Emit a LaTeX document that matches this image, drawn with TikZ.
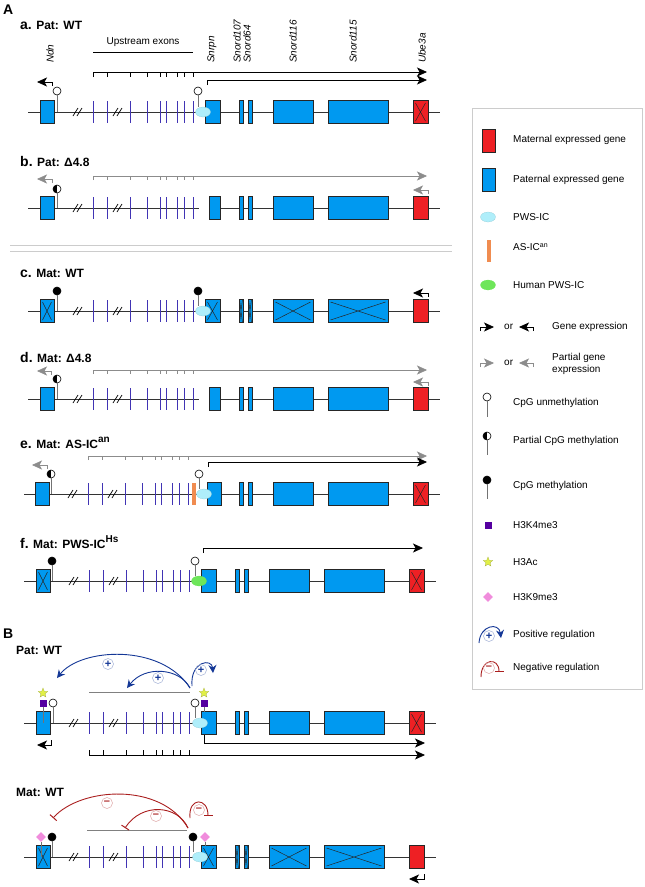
\documentclass[tikz,border=0pt]{standalone}
\usepackage{fontspec}
\setmainfont{Liberation Sans}
\usetikzlibrary{arrows.meta,shapes.geometric}

\definecolor{patblue}{RGB}{0,153,240}
\definecolor{matred}{RGB}{238,32,36}
\definecolor{pwscyan}{RGB}{175,238,250}
\definecolor{hsgreen}{RGB}{110,230,90}
\definecolor{asorange}{RGB}{240,140,80}
\definecolor{exonblue}{RGB}{65,52,180}
\definecolor{k4purple}{RGB}{85,0,160}
\definecolor{acyellow}{RGB}{225,240,70}
\definecolor{k9pink}{RGB}{240,140,220}
\definecolor{posblue}{RGB}{20,55,150}
\definecolor{negred}{RGB}{170,30,30}

\tikzset{
  chrom/.style={draw=black!80, line width=0.8pt},
  exon/.style={draw=exonblue, line width=0.9pt},
  exontick/.style={line width=0.6pt},
  gene/.style={draw=black!85, line width=0.7pt, fill=patblue, inner sep=0pt, outer sep=0pt, minimum height=23pt},
  matgene/.style={gene, fill=matred},
  crossed/.style={path picture={\draw[line width=0.5pt]
      ([shift={(#1,-#1)}]path picture bounding box.north west) -- ([shift={(-#1,#1)}]path picture bounding box.south east)
      ([shift={(-#1,-#1)}]path picture bounding box.north east) -- ([shift={(#1,#1)}]path picture bounding box.south west);}},
  crossed/.default=2.5pt,
  stem/.style={draw=black!55, line width=0.8pt},
  cpg/.style={circle, draw=black, line width=0.6pt, minimum size=8pt, inner sep=0pt},
  unmeth/.style={cpg, fill=white},
  meth/.style={cpg, fill=black},
  halfmeth/.style={cpg, fill=white, path picture={\fill[black] (path picture bounding box.south west) rectangle (path picture bounding box.north);}},
  pwsic/.style={ellipse, fill=pwscyan, draw=pwscyan!85!black, line width=0.2pt, minimum width=15pt, minimum height=10pt, inner sep=0pt},
  hsic/.style={pwsic, fill=hsgreen, draw=hsgreen},
  asic/.style={rectangle, fill=asorange, minimum width=4pt, minimum height=22pt, inner sep=0pt},
  expr/.style={line width=0.8pt, -{Stealth[length=10pt,width=9pt,inset=2.5pt]}},
  partexpr/.style={expr, line width=0.6pt, draw=black!45},
  k4mark/.style={rectangle, fill=k4purple, minimum size=7pt, inner sep=0pt},
  acmark/.style={star, star points=5, star point ratio=2.3, fill=acyellow, draw=acyellow!70!black, line width=0.2pt, minimum size=10pt, inner sep=0pt},
  k9mark/.style={diamond, fill=k9pink, minimum size=10pt, inner sep=0pt},
  posreg/.style={draw=posblue, line width=0.9pt, -{Stealth[length=8pt,width=8pt]}},
  negreg/.style={draw=negred, line width=0.9pt, -{Bar[width=9pt,line width=1pt]}},
  regsign/.style={circle, draw=#1!40, line width=0.5pt, minimum size=11pt, inner sep=0pt, text=#1, font=\bfseries\fontsize{11}{11}\selectfont},
  rowlbl/.style={anchor=west, inner sep=0pt, font=\fontsize{12}{14}\selectfont\bfseries},
  gname/.style={rotate=90, anchor=west, inner sep=0pt, font=\fontsize{10}{12}\selectfont\itshape},
  legtxt/.style={anchor=west, inner sep=0pt, font=\fontsize{10}{12}\selectfont, align=left},
}

% Ndn, the breaks and the upstream exons
\newcommand{\ndnpart}[1]{%
  \node[gene,#1,minimum width=14pt] (ndn) at (47,0) {};
  \foreach \sl in {79,119} {
    \draw[line width=0.7pt] (\sl-6,4) -- (\sl-1,-4);
    \draw[line width=0.7pt] (\sl-2,4) -- (\sl+3,-4);
  }
  \foreach \ex in {93,107,130,147,160,166,177,184,193}
    \draw[exon] (\ex,-11) -- (\ex,11);
}
% snoRNA clusters and Ube3a
\newcommand{\snordpart}[3]{%
  \node[gene,#2,minimum width=4pt] (snord107) at (241,0) {};
  \node[gene,#2,minimum width=4pt] (snord64) at (250,0) {};
  \node[gene,#1,minimum width=40pt] (snord116) at (293,0) {};
  \node[gene,#1,minimum width=60pt] (snord115) at (358,0) {};
  \node[matgene,#3,minimum width=15pt] (ube3a) at (420.5,0) {};
}
\newcommand{\upticks}[3]{%
  \foreach \ex in {107,130,147,160,166,177,184,193}
    \draw[exontick,#3] (\ex,#1) -- ++(0,#2);
}

\begin{document}
\begin{tikzpicture}[x=1pt,y=-1pt]
\useasboundingbox (0,0) rectangle (645,887);

\node[anchor=west, inner sep=0pt, font=\fontsize{14}{14}\selectfont\bfseries] (panA) at (3,10) {A};

% a. Pat: WT
\node[rowlbl] (lbla) at (20,25) {{\fontsize{14}{14}\selectfont a.} Pat: WT};
\node[gname] (gndn) at (50,63) {Ndn};
\node[gname] (gsnrpn) at (212,63) {Snrpn};
\node[gname] (gs107) at (237,63) {Snord107};
\node[gname] (gs64) at (247,63) {Snord64};
\node[gname] (gs116) at (293,63) {Snord116};
\node[gname] (gs115) at (353,63) {Snord115};
\node[gname] (gube) at (422,63) {Ube3a};
\node[font=\fontsize{10}{12}\selectfont] (upex) at (143,42) {Upstream exons};
\draw[line width=0.8pt] (93,52) -- (193,52);

\begin{scope}[shift={(0,112)}, name prefix=a-]
  \draw[chrom] (28,0) -- (440,0);
  \ndnpart{}
  \node[gene,minimum width=15pt] (snrpn) at (212.5,0) {};
  \node[pwsic] (pws) at (203,0) {};
  \snordpart{}{}{crossed}
  \node[unmeth] (cpg1) at (57,-21) {};
  \node[unmeth] (cpg2) at (198,-21) {};
  \draw[stem] (cpg1) -- (cpg1 |- ndn.center);
  \draw[stem] (cpg2) -- (cpg2 |- pws.north);
  \coordinate (ue0) at (93,-35); \coordinate (ue1) at (427,-40);
  \draw[expr] (ue0) |- (ue1);
  \upticks{-40}{5}{}
  \coordinate (sn0) at (207,-27); \coordinate (sn1) at (427,-32);
  \draw[expr] (sn0) |- (sn1);
  \coordinate (nd0) at (52,-26); \coordinate (nd1) at (37,-30);
  \draw[expr] (nd0) |- (nd1);
\end{scope}

% b. Pat: delta 4.8
\node[rowlbl] (lblb) at (20,161) {{\fontsize{14}{14}\selectfont b.} Pat: Δ4.8};
\begin{scope}[shift={(0,208)}, name prefix=b-]
  \draw[chrom] (28,0) -- (199,0) (209,0) -- (440,0);
  \ndnpart{}
  \node[gene,minimum width=11pt] (snrpn) at (214.5,0) {};
  \snordpart{}{}{}
  \node[halfmeth] (cpg1) at (57,-19) {};
  \draw[stem] (cpg1) -- (cpg1 |- ndn.center);
  \coordinate (ue0) at (93,-28); \coordinate (ue1) at (427,-32);
  \draw[partexpr] (ue0) |- (ue1);
  \upticks{-32}{4}{draw=black!45}
  \coordinate (nd0) at (52,-25); \coordinate (nd1) at (37,-29);
  \draw[partexpr] (nd0) |- (nd1);
  \coordinate (ub0) at (428,-14); \coordinate (ub1) at (413,-18);
  \draw[partexpr] (ub0) |- (ub1);
\end{scope}

\draw[black!20, line width=0.7pt] (10,245) -- (452,245) (10,251) -- (452,251);

% c. Mat: WT
\node[rowlbl] (lblc) at (20,273) {{\fontsize{14}{14}\selectfont c.} Mat: WT};
\begin{scope}[shift={(0,311)}, name prefix=c-]
  \draw[chrom] (28,0) -- (440,0);
  \ndnpart{crossed}
  \node[gene,crossed,minimum width=15pt] (snrpn) at (212.5,0) {};
  \node[pwsic] (pws) at (203,0) {};
  \snordpart{crossed}{crossed=0.6pt}{}
  \node[meth] (cpg1) at (57,-20) {};
  \node[meth] (cpg2) at (198,-20) {};
  \draw[stem] (cpg1) -- (cpg1 |- ndn.center);
  \draw[stem] (cpg2) -- (cpg2 |- pws.north);
  \coordinate (ub0) at (428,-14); \coordinate (ub1) at (413,-18);
  \draw[expr] (ub0) |- (ub1);
\end{scope}

% d. Mat: delta 4.8
\node[rowlbl] (lbld) at (20,357) {{\fontsize{14}{14}\selectfont d.} Mat: Δ4.8};
\begin{scope}[shift={(0,399)}, name prefix=d-]
  \draw[chrom] (28,0) -- (199,0) (209,0) -- (440,0);
  \ndnpart{}
  \node[gene,minimum width=11pt] (snrpn) at (214.5,0) {};
  \snordpart{}{}{}
  \node[halfmeth] (cpg1) at (57,-20) {};
  \draw[stem] (cpg1) -- (cpg1 |- ndn.center);
  \coordinate (ue0) at (93,-25); \coordinate (ue1) at (427,-29);
  \draw[partexpr] (ue0) |- (ue1);
  \upticks{-29}{4}{draw=black!45}
  \coordinate (nd0) at (51,-24); \coordinate (nd1) at (37,-28);
  \draw[partexpr] (nd0) |- (nd1);
  \coordinate (ub0) at (428,-13); \coordinate (ub1) at (413,-17);
  \draw[partexpr] (ub0) |- (ub1);
\end{scope}

% e. Mat: AS-IC an
\node[rowlbl] (lble) at (20,443) {{\fontsize{14}{14}\selectfont e.} Mat: AS-IC\raisebox{0.45em}{\fontsize{10}{10}\selectfont an}};
\begin{scope}[shift={(0,494)}, name prefix=e-]
  \draw[chrom] (24,0) -- (440,0);
  \begin{scope}[xshift=-5pt]
    \ndnpart{}
    \node[halfmeth] (cpg1) at (56,-20) {};
    \draw[stem] (cpg1) -- (cpg1 |- ndn.center);
    \upticks{-38}{4}{draw=black!45}
    \coordinate (nd0) at (52,-25); \coordinate (nd1) at (37,-29);
    \draw[partexpr] (nd0) |- (nd1);
  \end{scope}
  \coordinate (ue0) at (88,-34); \coordinate (ue1) at (427,-38);
  \draw[partexpr] (ue0) |- (ue1);
  \node[asic] (asic) at (194,0) {};
  \node[gene,minimum width=14pt] (snrpn) at (214,0) {};
  \node[pwsic] (pws) at (204,0) {};
  \snordpart{}{}{crossed}
  \node[unmeth] (cpg2) at (199,-20) {};
  \draw[stem] (cpg2) -- (cpg2 |- pws.north);
  \coordinate (sn0) at (208,-27); \coordinate (sn1) at (427,-32);
  \draw[expr] (sn0) |- (sn1);
\end{scope}

% f. Mat: PWS-IC Hs
\node[rowlbl] (lblf) at (20,542) {{\fontsize{14}{14}\selectfont f.} Mat: PWS-IC\raisebox{0.45em}{\fontsize{10}{10}\selectfont Hs}};
\begin{scope}[shift={(-4,581)}, name prefix=f-]
  \draw[chrom] (28,0) -- (440,0);
  \ndnpart{crossed}
  \node[gene,minimum width=15pt] (snrpn) at (212.5,0) {};
  \node[hsic] (hs) at (203,0) {};
  \snordpart{}{}{crossed}
  \node[meth] (cpg1) at (56,-20) {};
  \node[unmeth] (cpg2) at (199,-20) {};
  \draw[stem] (cpg1) -- (cpg1 |- ndn.center);
  \draw[stem] (cpg2) -- (cpg2 |- hs.north);
  \coordinate (sn0) at (207,-28); \coordinate (sn1) at (427,-33);
  \draw[expr] (sn0) |- (sn1);
\end{scope}

\node[anchor=west, inner sep=0pt, font=\fontsize{14}{14}\selectfont\bfseries] (panB) at (3,634) {B};

% B, paternal
\node[rowlbl] (lblpat) at (16,650) {Pat: WT};
\begin{scope}[shift={(-4,723)}, name prefix=p-]
  \draw[chrom] (28,0) -- (440,0);
  \ndnpart{}
  \node[gene,minimum width=15pt] (snrpn) at (212.5,0) {};
  \node[pwsic] (pws) at (204,0) {};
  \snordpart{}{}{crossed}
  \node[k4mark] (k4a) at (47,-20) {};
  \node[acmark] (aca) at (47,-30) {};
  \node[unmeth] (cpg1) at (57,-20) {};
  \node[unmeth] (cpg2) at (199,-20) {};
  \node[k4mark] (k4b) at (208,-20) {};
  \node[acmark] (acb) at (208,-30) {};
  \draw[stem] (k4a) -- (k4a |- ndn.center);
  \draw[stem] (cpg1) -- (cpg1 |- ndn.center);
  \draw[stem] (cpg2) -- (cpg2 |- pws.north);
  \draw[stem] (k4b) -- (k4b |- snrpn.north);
  \coordinate (gl0) at (93,-31); \coordinate (gl1) at (194,-31);
  \draw[black!50, line width=0.8pt] (gl0) -- (gl1);
  \coordinate (rs) at (194,-35); \coordinate (rself) at (196,-37);
  \coordinate (tbig) at (61,-45); \coordinate (tsmall) at (131,-35); \coordinate (tself) at (217,-50);
  \draw[posreg] (rs) .. controls (165,-80) and (85,-75) .. (tbig);
  \draw[posreg] (rs) .. controls (184,-55) and (149,-58) .. (tsmall);
  \draw[posreg] (rself) .. controls (194,-62) and (216,-65) .. (tself);
  \node[regsign=posblue] (sbig) at (112,-59) {+};
  \node[regsign=posblue] (ssmall) at (162,-45) {+};
  \node[regsign=posblue] (sself) at (205,-53) {+};
  \coordinate (nd0) at (55,17); \coordinate (nd1) at (41,22);
  \draw[expr] (nd0) |- (nd1);
  \coordinate (sn0) at (208,12); \coordinate (sn1) at (429,20);
  \draw[expr] (sn0) |- (sn1);
  \coordinate (ue0) at (93,27); \coordinate (ue1) at (429,32);
  \draw[expr] (ue0) |- (ue1);
  \upticks{32}{-5}{}
\end{scope}

% B, maternal
\node[rowlbl] (lblmat) at (16,792) {Mat: WT};
\begin{scope}[shift={(-4,857)}, name prefix=m-]
  \draw[chrom] (28,0) -- (440,0);
  \ndnpart{crossed}
  \node[gene,crossed,minimum width=15pt] (snrpn) at (212.5,0) {};
  \node[pwsic] (pws) at (204,0) {};
  \snordpart{crossed}{crossed=0.6pt}{}
  \node[k9mark] (k9a) at (45,-20) {};
  \node[meth] (cpg1) at (56,-20) {};
  \node[meth] (cpg2) at (197,-20) {};
  \node[k9mark] (k9b) at (209,-20) {};
  \draw[stem] (k9a) -- (k9a |- ndn.center);
  \draw[stem] (cpg1) -- (cpg1 |- ndn.center);
  \draw[stem] (cpg2) -- (cpg2 |- pws.north);
  \draw[stem] (k9b) -- (k9b |- snrpn.north);
  \coordinate (gl0) at (91,-27); \coordinate (gl1) at (191,-27);
  \draw[black!50, line width=0.8pt] (gl0) -- (gl1);
  \coordinate (rs) at (192,-29); \coordinate (rself) at (194,-39);
  \coordinate (tbig) at (57,-39); \coordinate (tsmall) at (129,-29); \coordinate (tself) at (212,-41);
  \draw[negreg] (rs) .. controls (165,-75) and (85,-70) .. (tbig);
  \draw[negreg] (rs) .. controls (182,-52) and (146,-55) .. (tsmall);
  \draw[negreg] (rself) .. controls (192,-60) and (212,-60) .. (tself);
  \node[regsign=negred] (sbig) at (111,-54) {–};
  \node[regsign=negred] (ssmall) at (160,-41) {–};
  \node[regsign=negred] (sself) at (203,-47) {–};
  \coordinate (ub0) at (428,17); \coordinate (ub1) at (413,22);
  \draw[expr] (ub0) |- (ub1);
\end{scope}

% legend
\node[draw=black!20, line width=0.6pt, minimum width=170pt, minimum height=581pt, inner sep=0pt, anchor=north west] (legend) at (472,108) {};
\node[matgene, minimum width=13pt] (lmat) at (488.5,140.5) {};
\node[legtxt] (tmat) at (513,140) {Maternal expressed gene};
\node[gene, minimum width=13pt] (lpat) at (488.5,180) {};
\node[legtxt] (tpat) at (513,180) {Paternal expressed gene};
\node[pwsic] (lpws) at (488,217) {};
\node[legtxt] (tpws) at (513,217) {PWS-IC};
\node[asic] (las) at (488.5,251) {};
\node[legtxt] (tas) at (513,247) {AS-IC\textsuperscript{an}};
\node[hsic] (lhs) at (488,285) {};
\node[legtxt] (ths) at (513,285) {Human PWS-IC};
\coordinate (ge0) at (480,331); \coordinate (ge1) at (494,327);
\draw[expr] (ge0) |- (ge1);
\node[legtxt] (tor1) at (504,327) {or};
\coordinate (ge2) at (533,331); \coordinate (ge3) at (519,327);
\draw[expr] (ge2) |- (ge3);
\node[legtxt] (tge) at (552,327) {Gene expression};
\coordinate (pe0) at (480,367); \coordinate (pe1) at (494,363);
\draw[partexpr] (pe0) |- (pe1);
\node[legtxt] (tor2) at (504,363) {or};
\coordinate (pe2) at (533,367); \coordinate (pe3) at (519,363);
\draw[partexpr] (pe2) |- (pe3);
\node[legtxt] (tpe) at (552,364) {Partial gene\\expression};
\node[unmeth] (lun) at (487,397) {};
\coordinate (lun0) at (487,417);
\draw[stem] (lun) -- (lun0);
\node[legtxt] (tun) at (513,403) {CpG unmethylation};
\node[halfmeth] (lhalf) at (487,436) {};
\coordinate (lhalf0) at (487,455);
\draw[stem] (lhalf) -- (lhalf0);
\node[legtxt] (thalf) at (513,441) {Partial CpG methylation};
\node[meth] (lme) at (487,480) {};
\coordinate (lme0) at (487,499);
\draw[stem] (lme) -- (lme0);
\node[legtxt] (tme) at (513,486) {CpG methylation};
\node[k4mark] (lk4) at (488,525) {};
\node[legtxt] (tk4) at (513,525) {H3K4me3};
\node[acmark] (lac) at (488,562) {};
\node[legtxt] (tac) at (513,562) {H3Ac};
\node[k9mark] (lk9) at (488,597) {};
\node[legtxt] (tk9) at (513,597) {H3K9me3};
\coordinate (lp0) at (479,643); \coordinate (lp1) at (501,638);
\draw[posreg] (lp0) .. controls (480,625) and (499,622) .. (lp1);
\node[regsign=posblue] (lps) at (489,636) {+};
\node[legtxt] (tpos) at (513,635) {Positive regulation};
\coordinate (ln0) at (481,677); \coordinate (ln1) at (499,672);
\draw[negreg] (ln0) .. controls (481,658) and (499,657) .. (ln1);
\node[regsign=negred] (lns) at (489,668) {–};
\node[legtxt] (tneg) at (513,668) {Negative regulation};
\end{tikzpicture}
\end{document}
